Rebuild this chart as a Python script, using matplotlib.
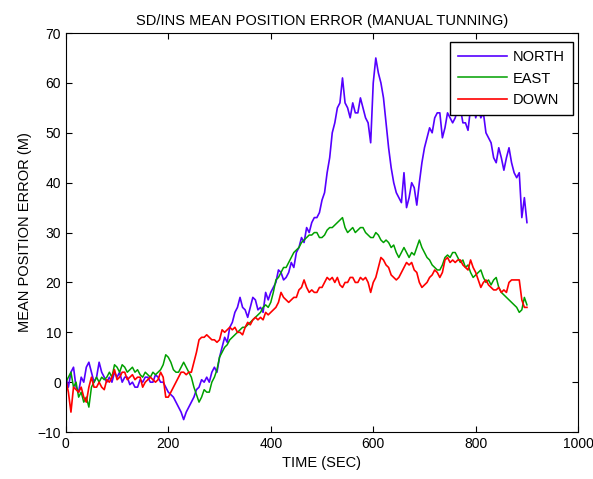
import numpy as np
import matplotlib
matplotlib.use('Agg')
import matplotlib.pyplot as plt

plt.rcParams['font.family'] = ['Liberation Sans', 'DejaVu Sans']

# time axis, one sample every 5 sec
TIME = np.arange(0, 901, 5)

NORTH = [
    1, -1, 2, 3, -1, -2, 1, 0, 3, 4,
    2, 0, 1, 4, 2, 1, 0, 1, 0, 2,
    1, 2, 0, 1, 1, -0.5, 0, -1, -1, 0.5,
    0, 1, 1, 0, 0, 1.5, 1, 0, 0, -1,
    -2, -2.5, -3, -4, -5, -6, -7.5, -6, -5, -4,
    -3, -1.5, -1, 0.5, 0, 1, 0, 2, 3, 2,
    5, 7, 9, 8, 11, 12, 14, 15, 17, 15,
    14.5, 13, 15, 17, 16.5, 14.5, 15, 14, 18, 16.5,
    18, 19, 20, 22.5, 22, 20.5, 21, 22, 24, 23,
    26, 27, 29, 28, 31, 30, 32, 33, 33, 34,
    36.5, 38, 42, 45, 50, 52, 55, 56, 61, 56,
    55, 53, 56, 54, 54, 57, 55, 53, 52, 48,
    60, 65, 62, 60, 57, 52, 47, 43, 40, 38,
    37, 36, 42, 35, 37, 40, 39, 35.5, 40, 44,
    47, 49, 51, 50, 53, 54, 54, 49, 51, 54,
    53, 52, 53, 55, 55, 52, 52, 50.5, 55, 57,
    53, 55, 53, 54, 50, 49, 48, 45, 44, 47,
    45, 42.5, 45, 47, 44, 42, 41, 42, 33, 37,
    32,
]

EAST = [
    0, 1, 2, -1, 0, -3, -2, -4, -3, -5,
    -1, 0, 1, 0, 1, 0.5, 1, 2, 1, 3.5,
    3, 2, 3.5, 3, 2, 2.5, 3, 2, 2.5, 1.5,
    1, 2, 1.5, 1, 2, 1.5, 2, 2.5, 3.5, 5.5,
    5, 4, 2.5, 2, 2, 3, 4, 3, 2, 1,
    -1, -2.5, -4, -3, -1.5, -2, -2, 0, 1, 2.5,
    5, 6, 7, 7.5, 8.5, 9, 9.5, 10, 10.5, 11,
    11, 11.5, 12, 12.5, 13, 13.5, 14, 15, 15.5, 15,
    16, 18, 20.5, 21, 22, 23, 23, 24, 25, 26,
    26.5, 27, 28, 28.5, 29, 29.5, 29.5, 30, 30, 29,
    29, 29.5, 30.5, 31, 31, 31.5, 32, 32.5, 33, 31,
    30, 30.5, 31, 30, 30.5, 31, 31, 30, 29.5, 29,
    29, 30, 29.5, 28.5, 28, 28.5, 28, 27, 27.5, 26,
    25, 26, 27, 26, 25, 26, 25.5, 27, 28.5, 27,
    26, 25, 24.5, 23.5, 23, 22.5, 22.5, 23.5, 25, 25.5,
    25, 26, 26, 25, 24, 24.5, 23, 23.5, 22, 21,
    21.5, 22, 22.5, 21, 20, 20.5, 19.5, 20.5, 21, 19,
    18, 17.5, 17, 16.5, 16, 15.5, 15, 14, 14.5, 17,
    15.5,
]

DOWN = [
    0.5, -2, -6, -1, -1.5, -2, -1, -3, -4, -1,
    1, -1, -1, 0, -1, -1.5, 0.5, 0, 1, 2.5,
    0.5, 1, 2, 2, 0.5, 1, 1.5, 0.5, 1, 1,
    -1, 0, 0.5, 1, 0.5, 0, 0.5, 2, 1, -3,
    -3, -2, -1, 0, 1, 2, 2, 1.5, 2, 2,
    4, 6, 8.5, 9, 9, 9.5, 9, 8.5, 8.5, 8,
    8.5, 10.5, 10, 10.5, 11, 10.5, 11, 10, 10, 9.5,
    11, 12, 11.5, 12.5, 13, 12.5, 13, 12.5, 14, 13.5,
    14, 14.5, 15, 16, 18, 17, 16.5, 16, 16.5, 17,
    17, 18.5, 19, 20.5, 19, 18, 18.5, 18, 18, 19,
    19, 20, 21, 20.5, 21, 20, 21, 19.5, 19, 20,
    20, 21, 21, 20, 20, 21, 20.5, 21, 20, 18,
    20, 21, 23, 25, 24.5, 23.5, 23, 21.5, 21, 20.5,
    21, 22, 23, 24, 23.5, 24, 22.5, 22, 20, 19,
    19.5, 20, 21, 21.5, 22.5, 22, 21, 22, 24.5, 25,
    24, 24.5, 24, 24.5, 24.5, 23.5, 23, 22.5, 24.5, 23,
    22, 20.5, 19, 20, 20.5, 19.5, 19, 18.5, 18.5, 19,
    18, 18.5, 18, 20, 20.5, 20.5, 20.5, 20.5, 16.5, 15,
    15,
]

fig = plt.figure(figsize=(5.93, 4.79), dpi=100)
ax = fig.add_axes([0.111, 0.098, 0.864, 0.833])

ax.plot(TIME, NORTH, color='#5500ff', lw=1.2, label='NORTH')
ax.plot(TIME, EAST, color='#00a000', lw=1.1, label='EAST')
ax.plot(TIME, DOWN, color='#ff0000', lw=1.2, label='DOWN')

ax.set_xlim(0, 1000)
ax.set_ylim(-10, 70)
ax.set_xticks(range(0, 1001, 200))
ax.set_yticks(range(-10, 71, 10))
ax.tick_params(direction='in', length=4, labelsize=10, top=True, right=True)

ax.set_title('SD/INS MEAN POSITION ERROR (MANUAL TUNNING)', fontsize=10.5)
ax.set_xlabel('TIME (SEC)', fontsize=10.5)
ax.set_ylabel('MEAN POSITION ERROR (M)', fontsize=10.5)

leg = ax.legend(loc='upper right', bbox_to_anchor=(0.99, 0.977), borderaxespad=0,
                fontsize=10.5, fancybox=False, framealpha=1, edgecolor='black',
                handlelength=3.4, handletextpad=0.4, borderpad=0.55, labelspacing=0.5)
leg.get_frame().set_linewidth(1.0)

plt.savefig('out.png', dpi=100)
plt.close()
